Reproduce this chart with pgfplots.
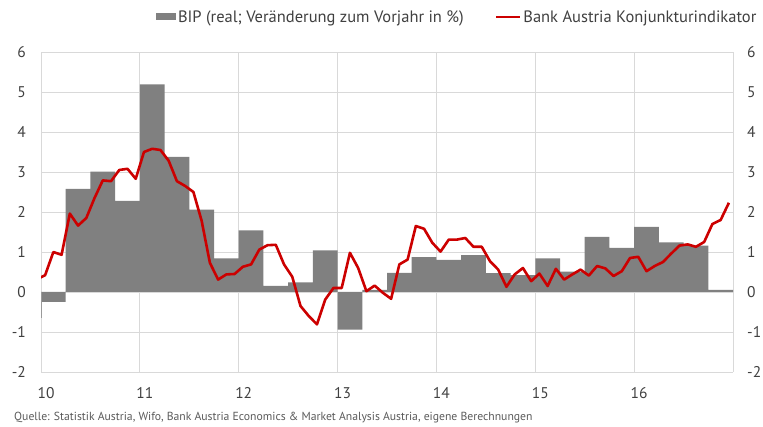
\documentclass[border=0pt]{standalone}
\usepackage{fontspec}
\setmainfont{PT Sans}
\usepackage{pgfplots}
\pgfplotsset{compat=1.18}
\usepackage{pgfplotstable}
\definecolor{bargray}{RGB}{128,128,128}
\definecolor{bared}{RGB}{204,0,0}
\definecolor{gridgray}{RGB}{217,217,217}
\definecolor{txtgray}{RGB}{64,64,64}
\definecolor{notegray}{RGB}{90,90,90}

\pgfplotstableread{
x v
10.00 -0.25
10.25 2.58
10.50 3.01
10.75 2.28
11.00 5.19
11.25 3.38
11.50 2.06
11.75 0.84
12.00 1.54
12.25 0.15
12.50 0.24
12.75 1.04
13.00 -0.94
13.25 0.05
13.50 0.48
13.75 0.87
14.00 0.80
14.25 0.92
14.50 0.47
14.75 0.42
15.00 0.84
15.25 0.51
15.50 1.38
15.75 1.10
16.00 1.63
16.25 1.24
16.50 1.16
16.75 0.05
17.00 0
}\bipdata

\pgfplotstableread{
m v
-1 0.32
0 0.42
1 1.00
2 0.93
3 1.96
4 1.66
5 1.85
6 2.35
7 2.79
8 2.77
9 3.05
10 3.08
11 2.83
12 3.50
13 3.58
14 3.55
15 3.28
16 2.77
17 2.65
18 2.50
19 1.78
20 0.73
21 0.31
22 0.44
23 0.45
24 0.63
25 0.69
26 1.06
27 1.17
28 1.18
29 0.69
30 0.38
31 -0.35
32 -0.60
33 -0.81
34 -0.19
35 0.10
36 0.10
37 0.98
38 0.60
39 0.02
40 0.16
41 -0.02
42 -0.17
43 0.69
44 0.81
45 1.65
46 1.58
47 1.23
48 1.01
49 1.31
50 1.31
51 1.35
52 1.13
53 1.13
54 0.77
55 0.56
56 0.13
57 0.44
58 0.60
59 0.27
60 0.46
61 0.15
62 0.58
63 0.31
64 0.44
65 0.56
66 0.41
67 0.65
68 0.59
69 0.40
70 0.52
71 0.85
72 0.88
73 0.52
74 0.65
75 0.75
76 0.96
77 1.16
78 1.19
79 1.13
80 1.25
81 1.70
82 1.80
83 2.23
}\indidata

\begin{document}
\begin{tikzpicture}[x=1pt,y=1pt]
\useasboundingbox (0,0) rectangle (763,427);
\begin{axis}[
  at={(41pt,55pt)}, anchor=south west,
  scale only axis, width=692pt, height=320pt,
  xmin=10, xmax=17, ymin=-2, ymax=6,
  xtick={10,11,12,13,14,15,16,17},
  xticklabels={10,11,12,13,14,15,16,{}},
  ytick={-2,-1,0,1,2,3,4,5,6},
  grid=major,
  major grid style={draw=gridgray, line width=0.8pt},
  axis line style={draw=none},
  tick style={draw=none},
  /pgf/number format/assume math mode=true,
  tick label style={font=\fontsize{15.5}{17}\selectfont, text=txtgray},
  xticklabel style={anchor=center, yshift=-21pt, xshift=5pt},
  yticklabel style={anchor=east, inner sep=0pt, xshift=-15pt},
  clip=true,
  legend columns=2,
  legend style={at={(0.1662,1.1094)}, anchor=west, draw=none, fill=none,
    font=\fontsize{16.5}{18}\selectfont, text=txtgray,
    inner sep=0pt, outer sep=0pt,
    nodes={inner xsep=2pt, inner ysep=0pt},
    /tikz/every even column/.append style={column sep=29pt}},
]
\addplot[ybar interval, fill=bargray, draw=none,
  legend image code/.code={\fill[bargray] (0pt,-3.5pt) rectangle (20pt,3.5pt);}]
  table[x=x, y=v] {\bipdata};
\addlegendentry{BIP (real; Veränderung zum Vorjahr in \%)}
\addplot[bared, line width=2.6pt, line join=round,
  legend image code/.code={\draw[bared, line width=2.6pt] (0pt,0pt) -- (24pt,0pt);}]
  table[x expr={10+(\thisrow{m}+0.5)/12}, y=v] {\indidata};
\addlegendentry{Bank Austria Konjunkturindikator}
\addplot[bargray!80, line width=1pt, forget plot] coordinates {(10.002,0) (10.002,-0.65)};
\end{axis}
\begin{axis}[
  at={(41pt,55pt)}, anchor=south west,
  scale only axis, width=692pt, height=320pt,
  xmin=10, xmax=17, ymin=-2, ymax=6,
  xtick=\empty,
  ytick={-2,-1,0,1,2,3,4,5,6},
  axis line style={draw=none},
  tick style={draw=none},
  yticklabel pos=right,
  /pgf/number format/assume math mode=true,
  tick label style={font=\fontsize{15.5}{17}\selectfont, text=txtgray},
  yticklabel style={anchor=west, inner sep=0pt, xshift=14pt},
]
\end{axis}
\node[anchor=west, inner sep=0pt, font=\fontsize{11.7}{13}\selectfont, text=notegray]
  at (14,9) {Quelle: Statistik Austria, Wifo, Bank Austria Economics \& Market Analysis Austria, eigene Berechnungen};
\end{tikzpicture}
\end{document}
